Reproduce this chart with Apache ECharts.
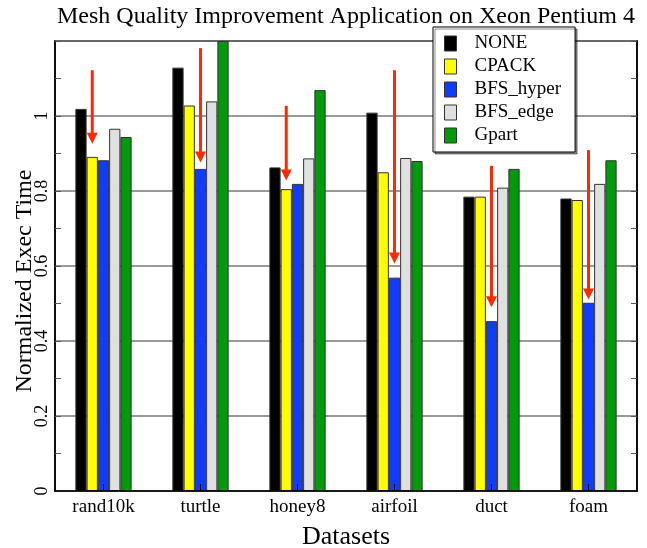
<!DOCTYPE html>
<html>
<head>
<meta charset="utf-8">
<script src="https://cdn.jsdelivr.net/npm/echarts@6/dist/echarts.min.js"></script>
<style>html,body{margin:0;padding:0;background:#fff}#c{width:647px;height:548px}</style>
</head>
<body>
<div id="c"></div>
<script>
const categories = ['rand10k', 'turtle', 'honey8', 'airfoil', 'duct', 'foam'];
const seriesNames = ['NONE', 'CPACK', 'BFS_hyper', 'BFS_edge', 'Gpart'];
const NONE      = [1.019, 1.129, 0.863, 1.009, 0.785, 0.780];
const CPACK     = [0.891, 1.028, 0.805, 0.850, 0.785, 0.776];
const BFS_hyper = [0.882, 0.859, 0.819, 0.569, 0.453, 0.502];
const BFS_edge  = [0.966, 1.039, 0.887, 0.888, 0.809, 0.819];
const Gpart     = [0.944, 1.200, 1.069, 0.880, 0.859, 0.882];
// arrows: category, target series, start value, end value
const arrowCategory = ['rand10k', 'turtle', 'honey8', 'airfoil', 'duct', 'foam'];
const arrowTarget   = ['CPACK', 'BFS_hyper', 'CPACK', 'BFS_hyper', 'BFS_hyper', 'BFS_hyper'];
const arrowFrom     = [1.122, 1.181, 1.027, 1.122, 0.867, 0.909];
const arrowTo       = [0.926, 0.876, 0.828, 0.607, 0.490, 0.511];
const yTicks = [0, 0.2, 0.4, 0.6, 0.8, 1];

const values = [NONE, CPACK, BFS_hyper, BFS_edge, Gpart];
const colors = ['#000000', '#ffff00', '#0f3cff', '#e0e0e0', '#009a0a'];
const FONT = 'Liberation Serif';
const CAT_GAP = 0.42;

const chart = echarts.init(document.getElementById('c'), null, {renderer: 'canvas'});

const barSeries = seriesNames.map((n, i) => ({
  name: n, type: 'bar', data: values[i], barGap: '0%', barCategoryGap: (CAT_GAP * 100) + '%',
  itemStyle: {color: colors[i], borderColor: '#333', borderWidth: 1},
  emphasis: {disabled: true}, z: 2
}));

const arrowData = arrowCategory.map((c, i) => [categories.indexOf(c), arrowFrom[i], arrowTo[i], seriesNames.indexOf(arrowTarget[i])]);

const arrowSeries = {
  type: 'custom', silent: true, z: 5, data: arrowData,
  renderItem: function (params, api) {
    const cat = api.value(0), y0 = api.value(1), y1 = api.value(2), slot = api.value(3);
    const p0 = api.coord([cat, y0]);
    const p1 = api.coord([cat, y1]);
    const band = api.size([1, 0])[0];
    const bw = band * (1 - CAT_GAP) / seriesNames.length;
    const x = p0[0] + (slot - (seriesNames.length - 1) / 2) * bw;
    const head = 11, hw = 5.5;
    return {
      type: 'group', children: [
        {type: 'line', shape: {x1: x, y1: p0[1], x2: x, y2: p1[1] - head + 1},
         style: {stroke: '#ff2a00', lineWidth: 3}},
        {type: 'polygon', shape: {points: [[x - hw, p1[1] - head], [x + hw, p1[1] - head], [x, p1[1]]]},
         style: {fill: '#ff2a00'}}
      ]
    };
  }
};

chart.setOption({
  animation: false,
  backgroundColor: '#fff',
  title: {
    text: 'Mesh Quality Improvement Application on Xeon Pentium 4',
    left: 52, top: 0,
    textStyle: {fontFamily: FONT, fontSize: 24, fontWeight: 'normal', color: '#000'}
  },
  legend: {
    orient: 'vertical', left: 433, top: 27,
    data: seriesNames,
    icon: 'rect', itemWidth: 12, itemHeight: 15, itemGap: 4,
    padding: [7, 14, 7, 11],
    backgroundColor: '#fff', borderColor: '#000', borderWidth: 1,
    shadowColor: 'rgba(0,0,0,0.45)', shadowBlur: 0, shadowOffsetX: 2, shadowOffsetY: 2,
    itemStyle: {borderColor: '#333', borderWidth: 1},
    textStyle: {fontFamily: FONT, fontSize: 19, lineHeight: 18, color: '#000', padding: [0, 0, 0, 13]},
    selectedMode: false
  },
  graphic: [{
    type: 'text', x: 25, y: 281, rotation: Math.PI / 2,
    style: {text: 'Normalized Exec Time', fontFamily: FONT, fontSize: 24, fill: '#000', align: 'center', verticalAlign: 'middle'}
  }],
  grid: {left: 55, right: 10, top: 41, bottom: 57, outerBoundsMode: 'none', containLabel: false,
         show: true, borderColor: '#000', borderWidth: 1.5, backgroundColor: 'transparent'},
  xAxis: {
    type: 'category', data: categories, z: 3,
    name: 'Datasets', nameLocation: 'middle', nameGap: 33,
    nameTextStyle: {fontFamily: FONT, fontSize: 26, color: '#000'},
    axisLine: {lineStyle: {color: '#000', width: 1.5}},
    axisTick: {show: true, alignWithLabel: true, inside: true, length: 7, lineStyle: {color: '#000', width: 1}},
    axisLabel: {fontFamily: FONT, fontSize: 19, color: '#000', margin: 7}
  },
  yAxis: [{
    type: 'value', min: 0, max: 1.2, interval: 0.2,
    axisLine: {show: true, lineStyle: {color: '#000', width: 1.5}},
    axisTick: {show: true, inside: true, length: 6, lineStyle: {color: '#555'}},
    minorTick: {show: true, splitNumber: 2, length: 6, lineStyle: {color: '#555'}},
    splitLine: {show: true, lineStyle: {color: '#777', width: 1.5}},
    axisLabel: {
      fontFamily: FONT, fontSize: 18, color: '#000', rotate: 90, margin: 4,
      formatter: v => (yTicks.some(t => Math.abs(t - v) < 1e-6) ? String(+v.toFixed(1)) : '')
    }
  }, {
    type: 'value', min: 0, max: 1.2, interval: 0.2, position: 'right',
    axisLine: {show: true, lineStyle: {color: '#000', width: 1.5}},
    axisTick: {show: true, inside: true, length: 6, lineStyle: {color: '#555'}},
    minorTick: {show: true, splitNumber: 2, length: 6, lineStyle: {color: '#555'}},
    splitLine: {show: false}, axisLabel: {show: false}
  }],
  series: barSeries.concat([arrowSeries])
});
</script>
</body>
</html>
